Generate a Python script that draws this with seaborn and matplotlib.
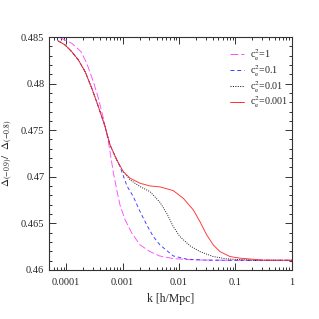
import matplotlib
matplotlib.use('Agg')
import matplotlib.pyplot as plt
from matplotlib.ticker import FixedLocator, FixedFormatter, MultipleLocator, LogLocator, NullFormatter
import pandas as pd
import seaborn as sns

# Values
k_common = [7.3e-5, 9.6e-5, 1.26e-4, 1.65e-4, 2.17e-4, 2.85e-4, 3.73e-4, 4.9e-4, 6.0e-4, 7.9e-4]
v_common = [0.48457, 0.48414, 0.48342, 0.48253, 0.48128, 0.47950, 0.47752, 0.47538, 0.47341, 0.47180]

k_c1 = [7.8e-5, 1.26e-4, 1.84e-4, 2.32e-4, 3.04e-4, 3.73e-4, 4.57e-4, 5.6e-4, 6.9e-4, 7.9e-4,
        9.0e-4, 1.11e-3, 1.46e-3, 2.04e-3, 3.07e-3, 4.48e-3, 7.9e-3, 0.0179, 0.1, 1.0]
v_c1 = [0.48493, 0.48432, 0.48342, 0.48218, 0.48020, 0.47842, 0.47628, 0.47377, 0.47038, 0.46858,
        0.46697, 0.46536, 0.46394, 0.46268, 0.46196, 0.46150, 0.46121, 0.46107, 0.46103, 0.46103]

k_c01 = k_common[:-1] + [9.0e-4, 1.2e-3, 1.55e-3, 2.04e-3, 2.68e-3, 3.51e-3, 4.6e-3,
                         7.9e-3, 0.0137, 0.0309, 0.1, 1.0]
v_c01 = v_common[:-1] + [0.47108, 0.46900, 0.46787, 0.46626, 0.46483, 0.46357, 0.46268,
                         0.46150, 0.46115, 0.46104, 0.46103, 0.46103]

k_c001 = k_common + [1.03e-3, 1.36e-3, 2.04e-3, 3.07e-3, 4.6e-3, 6.05e-3, 7.9e-3, 0.0104,
                     0.0157, 0.0235, 0.0405, 0.070, 0.2, 1.0]
v_c001 = v_common + [0.47055, 0.46966, 0.46894, 0.46840, 0.46725, 0.46608, 0.46465, 0.46357,
                     0.46258, 0.46196, 0.46143, 0.46118, 0.46104, 0.46103]

k_c0001 = k_common + [1.03e-3, 1.36e-3, 2.04e-3, 3.07e-3, 4.6e-3, 7.9e-3, 0.0119, 0.0179,
                      0.0235, 0.0309, 0.0405, 0.0532, 0.080, 0.120, 0.3, 1.0]
v_c0001 = v_common + [0.47055, 0.46984, 0.46930, 0.46901, 0.46891, 0.46851, 0.46769, 0.46644,
                      0.46518, 0.46376, 0.46268, 0.46196, 0.46143, 0.46126, 0.46105, 0.46103]

labels = [r'c$_{\rm e}^{2}$=1', r'c$_{\rm e}^{2}$=0.1',
          r'c$_{\rm e}^{2}$=0.01', r'c$_{\rm e}^{2}$=0.001']
colors = ['#ff4cff', '#3a3aff', '#000000', '#ff3030']
dashes = [(8, 3), (4, 3), (1, 1.5), '']

xticks = [0.0001, 0.001, 0.01, 0.1, 1]
xticklabels = ['0.0001', '0.001', '0.01', '0.1', '1']
yticks = [0.46, 0.465, 0.47, 0.475, 0.48, 0.485]
yticklabels = ['0.46', '0.465', '0.47', '0.475', '0.48', '0.485']

frames = []
for lab, kk, vv in zip(labels, [k_c1, k_c01, k_c001, k_c0001], [v_c1, v_c01, v_c001, v_c0001]):
    frames.append(pd.DataFrame({'k': kk, 'ratio': vv, 'model': lab}))
df = pd.concat(frames, ignore_index=True)

sns.set_style('ticks')
plt.rcParams['font.family'] = ['Liberation Serif', 'DejaVu Serif']
plt.rcParams['mathtext.fontset'] = 'stix'

fig = plt.figure(figsize=(3.19, 3.19), dpi=100)
ax = fig.add_axes([0.154, 0.154, 0.761, 0.730])

sns.lineplot(data=df, x='k', y='ratio', hue='model', style='model',
             palette=dict(zip(labels, colors)), dashes=dict(zip(labels, dashes)),
             estimator=None, sort=False, linewidth=0.65, ax=ax, legend=False)

ax.set_xscale('log')
ax.set_xlim(5e-5, 1)
ax.set_ylim(0.46, 0.485)
ax.xaxis.set_major_locator(FixedLocator(xticks))
ax.xaxis.set_major_formatter(FixedFormatter(xticklabels))
ax.xaxis.set_minor_locator(LogLocator(base=10, subs=range(2, 10), numticks=20))
ax.xaxis.set_minor_formatter(NullFormatter())
ax.yaxis.set_major_locator(FixedLocator(yticks))
ax.yaxis.set_major_formatter(FixedFormatter(yticklabels))
ax.yaxis.set_minor_locator(MultipleLocator(0.001))
ax.tick_params(which='both', direction='in', top=True, right=True, labelsize=7.5,
               color='#333333', width=0.7)
ax.tick_params(which='major', length=5)
ax.tick_params(which='minor', length=2.5)
ax.tick_params(axis='x', pad=6)
for s in ax.spines.values():
    s.set_linewidth(0.8)
    s.set_color('#333333')

ax.set_xlabel('k [h/Mpc]', fontsize=8.5, labelpad=4)
ax.set_ylabel(r'$\Delta_{(-0.9)}/\ \ \Delta_{(-0.8)}$', fontsize=8, labelpad=4)

handles = [plt.Line2D([], [], color=c, lw=0.7, dashes=d if d else (None, None),
                      linestyle='-' if not d else '--')
           for c, d in zip(colors, dashes)]
ax.legend(handles, labels, loc='upper right', frameon=False, fontsize=7.2,
          handlelength=1.4, handletextpad=0.6, labelspacing=0.0,
          borderaxespad=0.0, bbox_to_anchor=(1.0, 0.975))

fig.savefig('out.png', dpi=100)
